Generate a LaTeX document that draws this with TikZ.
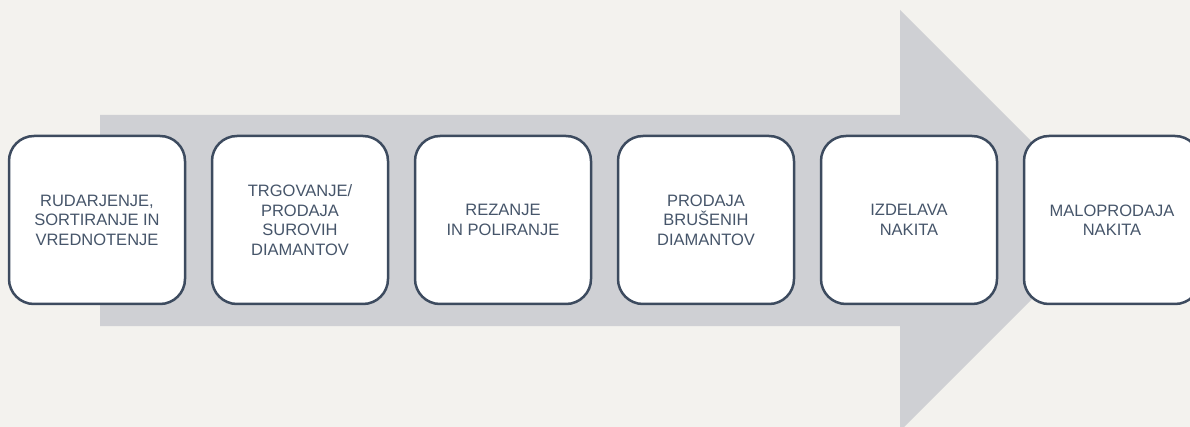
\documentclass[tikz,border=0pt]{standalone}
\usepackage{fontspec}
\setmainfont{Liberation Sans}
\usepackage{tikz}
\usetikzlibrary{positioning}
\definecolor{paper}{HTML}{F3F2EE}
\definecolor{shaft}{HTML}{CFD0D4}
\definecolor{navy}{HTML}{3D4B5F}
\definecolor{slate}{HTML}{46556A}

\begin{document}
\begin{tikzpicture}
[x=1pt,y=-1pt,
stage/.style={rectangle,rounded corners=25pt,draw=navy,line width=2.5pt,fill=white,minimum width=176pt,minimum height=168pt,inner sep=0pt,align=center,text=slate,font=\fontsize{16.5}{19.5}\selectfont}]
\useasboundingbox (0,0) rectangle (1190,427);
\clip (0,0) rectangle (1190,427);
\fill[paper] (0,0) rectangle (1190,427);
\fill[shaft] (100,115) -- (900,115) -- (900,10) -- (1110.5,220.5) -- (900,431) -- (900,326) -- (100,326) -- cycle;

\node[stage] (mining) at (97,220) {RUDARJENJE,\\SORTIRANJE IN\\VREDNOTENJE};
\node[stage] (trading) at (300,220) {TRGOVANJE/\\PRODAJA\\SUROVIH\\DIAMANTOV};
\node[stage] (cutting) at (503,220) {REZANJE\\IN POLIRANJE};
\node[stage] (polished) at (706,220) {PRODAJA\\BRUŠENIH\\DIAMANTOV};
\node[stage] (jewelry) at (909,220) {IZDELAVA\\NAKITA};
\node[stage] (retail) at (1112,220) {MALOPRODAJA\\NAKITA};
\end{tikzpicture}
\end{document}
